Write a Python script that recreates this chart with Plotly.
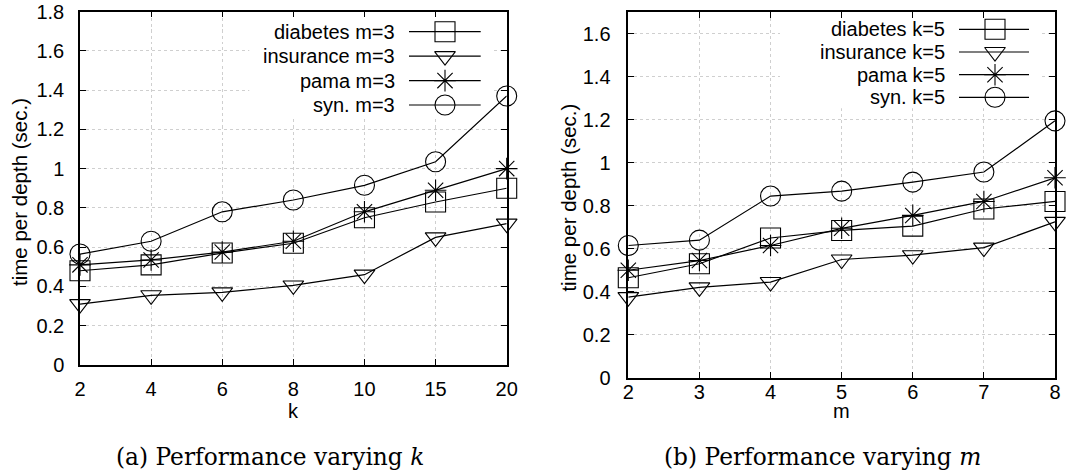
import plotly.graph_objects as go

# ---------------- data ----------------
k_labels = ["2", "4", "6", "8", "10", "15", "20"]
m_labels = ["2", "3", "4", "5", "6", "7", "8"]

left_diabetes = [0.48, 0.51, 0.57, 0.62, 0.75, 0.83, 0.90]
left_insurance = [0.31, 0.355, 0.37, 0.405, 0.46, 0.65, 0.72]
left_pama = [0.51, 0.535, 0.575, 0.63, 0.78, 0.89, 1.00]
left_syn = [0.565, 0.63, 0.78, 0.84, 0.915, 1.035, 1.37]

right_diabetes = [0.465, 0.53, 0.65, 0.685, 0.705, 0.785, 0.82]
right_insurance = [0.375, 0.42, 0.445, 0.55, 0.57, 0.605, 0.725]
right_pama = [0.50, 0.545, 0.615, 0.695, 0.755, 0.82, 0.93]
right_syn = [0.615, 0.64, 0.845, 0.868, 0.91, 0.957, 1.195]

left_names = ["diabetes m=3", "insurance m=3", "pama m=3", "syn. m=3"]
right_names = ["diabetes k=5", "insurance k=5", "pama k=5", "syn. k=5"]

# ---------------- style ----------------
W, H = 1068, 473
SANS = "Liberation Sans, Arial, Helvetica, sans-serif"
SERIF = "DejaVu Serif, serif"
symbols = ["square-open", "triangle-down-open", "asterisk-open", "circle-open"]
sizes = [20, 18, 18, 20]

def px(x):
    return x / W

def py(y):
    return 1 - y / H

fig = go.Figure()

# x positions of the evenly spaced categories
k_pos = list(range(len(k_labels)))
m_pos = list(range(len(m_labels)))

# white key backgrounds drawn first (above grid, below data)
fig.add_trace(go.Scatter(x=[2.38, 5.8, 5.8, 2.38, 2.38], y=[1.267, 1.267, 1.8, 1.8, 1.267],
                         mode="lines", fill="toself", fillcolor="white",
                         line=dict(width=0, color="white"), hoverinfo="skip",
                         showlegend=False, xaxis="x", yaxis="y"))
fig.add_trace(go.Scatter(x=[2.133, 5.817, 5.817, 2.133, 2.133], y=[1.254, 1.254, 1.7, 1.7, 1.254],
                         mode="lines", fill="toself", fillcolor="white",
                         line=dict(width=0, color="white"), hoverinfo="skip",
                         showlegend=False, xaxis="x2", yaxis="y2"))

left_series = [left_diabetes, left_insurance, left_pama, left_syn]
right_series = [right_diabetes, right_insurance, right_pama, right_syn]

for vals, sym, sz, nm in zip(left_series, symbols, sizes, left_names):
    fig.add_trace(go.Scatter(
        x=k_pos, y=vals, mode="lines+markers", name=nm, showlegend=False,
        line=dict(color="black", width=1.2), cliponaxis=False,
        marker=dict(symbol=sym, size=sz, color="black", line=dict(color="black", width=1.1)),
        xaxis="x", yaxis="y"))

for vals, sym, sz, nm in zip(right_series, symbols, sizes, right_names):
    fig.add_trace(go.Scatter(
        x=m_pos, y=vals, mode="lines+markers", name=nm, showlegend=False,
        line=dict(color="black", width=1.2), cliponaxis=False,
        marker=dict(symbol=sym, size=sz, color="black", line=dict(color="black", width=1.1)),
        xaxis="x2", yaxis="y2"))

# ---------------- custom gnuplot-style keys (pixel overlay axis) ----------------
key_specs = [
    dict(names=left_names, text_right=396.7, rows=[31.7, 56.1, 80.6, 105.0],
         line_x=(409, 480.7), mark_x=445),
    dict(names=right_names, text_right=946.7, rows=[29.3, 52.0, 74.7, 97.3],
         line_x=(959, 1029), mark_x=995),
]
annotations = []
for spec in key_specs:
    for nm, row, sym, sz in zip(spec["names"], spec["rows"], symbols, sizes):
        fig.add_trace(go.Scatter(
            x=list(spec["line_x"]), y=[row, row], mode="lines", showlegend=False,
            line=dict(color="black", width=1.2), xaxis="x3", yaxis="y3", hoverinfo="skip"))
        fig.add_trace(go.Scatter(
            x=[spec["mark_x"]], y=[row], mode="markers", showlegend=False,
            marker=dict(symbol=sym, size=sz, color="black", line=dict(color="black", width=1.1)),
            xaxis="x3", yaxis="y3", hoverinfo="skip"))
        annotations.append(dict(
            x=px(spec["text_right"]), y=py(row), xref="paper", yref="paper",
            text=nm, showarrow=False, xanchor="right", yanchor="middle",
            font=dict(family=SANS, size=20, color="black")))

# axis titles and captions
annotations += [
    dict(x=px(20), y=py(192), xref="paper", yref="paper", text="time per depth (sec.)",
         textangle=-90, showarrow=False, xanchor="center", yanchor="middle",
         font=dict(family=SANS, size=20.5, color="black")),
    dict(x=px(567.6), y=py(198), xref="paper", yref="paper", text="time per depth (sec.)",
         textangle=-90, showarrow=False, xanchor="center", yanchor="middle",
         font=dict(family=SANS, size=20.5, color="black")),
    dict(x=px(293.4), y=py(411), xref="paper", yref="paper", text="k",
         showarrow=False, xanchor="center", yanchor="middle", borderpad=0,
         font=dict(family=SANS, size=20, color="black")),
    dict(x=px(841.7), y=py(411), xref="paper", yref="paper", text="m",
         showarrow=False, xanchor="center", yanchor="middle", borderpad=0,
         font=dict(family=SANS, size=20, color="black")),
    dict(x=px(269.5), y=py(456), xref="paper", yref="paper",
         text="(a) Performance varying <i>k</i>",
         showarrow=False, xanchor="center", yanchor="middle",
         font=dict(family=SERIF, size=23.3, color="black")),
    dict(x=px(822), y=py(456), xref="paper", yref="paper",
         text="(b) Performance varying <i>m</i>",
         showarrow=False, xanchor="center", yanchor="middle",
         font=dict(family=SERIF, size=23.3, color="black")),
]

common_axis = dict(
    showline=True, linecolor="black", linewidth=1.5, mirror="ticks",
    ticks="inside", ticklen=6, tickwidth=1, tickcolor="black",
    showgrid=True, gridcolor="#cfcfcf", griddash="dot", gridwidth=1,
    zeroline=False, tickfont=dict(family=SANS, size=20, color="black"),
    fixedrange=True, automargin=False,
)

fig.update_layout(
    width=W, height=H, margin=dict(l=0, r=0, t=0, b=0, autoexpand=False),
    paper_bgcolor="white", plot_bgcolor="rgba(0,0,0,0)", showlegend=False,
    xaxis=dict(domain=[px(80), px(506.7)], range=[0, len(k_labels) - 1],
               tickmode="array", tickvals=k_pos, ticktext=k_labels,
               anchor="y", ticklabelstandoff=5, **common_axis),
    yaxis=dict(domain=[py(365), py(11.5)], range=[0, 1.8], dtick=0.2,
               anchor="x", ticklabelstandoff=10, **common_axis),
    xaxis2=dict(domain=[px(628.3), px(1055)], range=[0, len(m_labels) - 1],
                tickmode="array", tickvals=m_pos, ticktext=m_labels,
                anchor="y2", ticklabelstandoff=-4, **common_axis),
    yaxis2=dict(domain=[py(377.7), py(12.3)], range=[0, 1.7], dtick=0.2,
                anchor="x2", ticklabelstandoff=12, **common_axis),
    xaxis3=dict(domain=[0, 1], range=[0, W], visible=False, anchor="y3", fixedrange=True),
    yaxis3=dict(domain=[0, 1], range=[H, 0], visible=False, anchor="x3", fixedrange=True),
    annotations=annotations,
)

fig.write_html("out.html")
